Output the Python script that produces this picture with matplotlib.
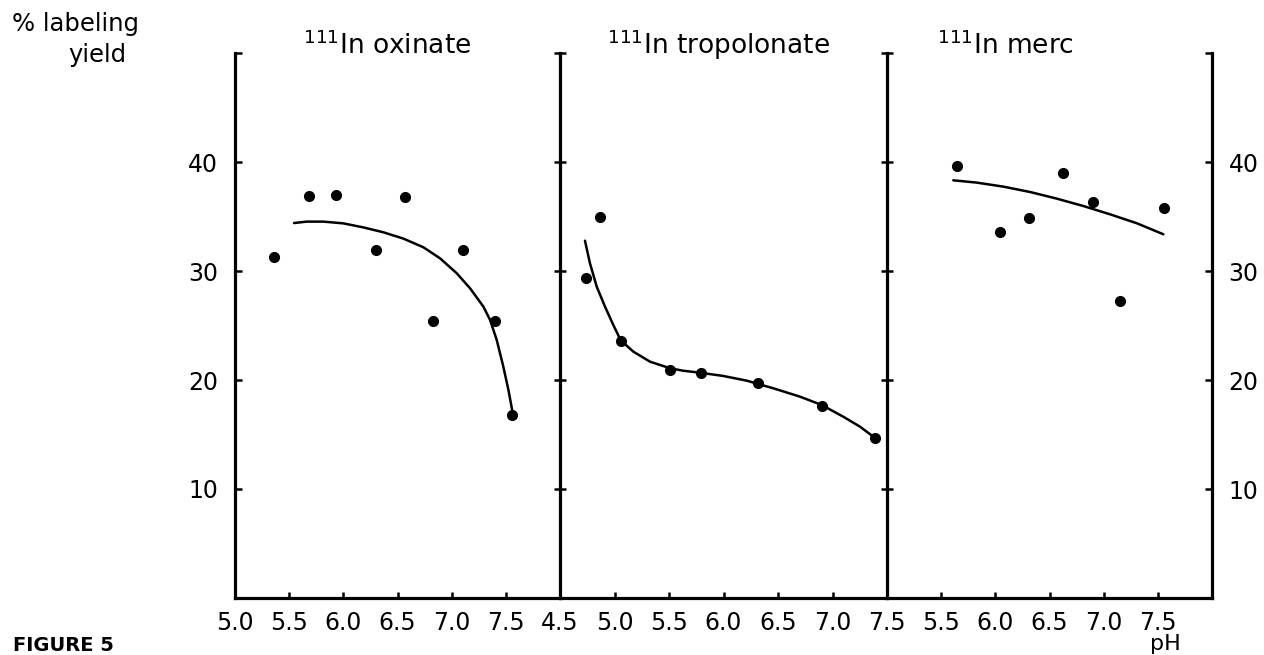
import matplotlib
matplotlib.use("Agg")
import matplotlib.pyplot as plt

W, H = 1264, 655

# 111In oxinate: measured points and the hand-drawn curve
ox_ph = [5.36, 5.68, 5.93, 6.30, 6.57, 6.83, 7.10, 7.40, 7.56]
ox_yield = [31.3, 36.85, 37.0, 31.9, 36.8, 25.4, 31.95, 25.4, 16.8]
ox_fit_ph = [5.545, 5.662, 5.815, 6.000, 6.185, 6.370, 6.555, 6.740, 6.893,
             7.047, 7.170, 7.293, 7.355, 7.416, 7.477, 7.524, 7.564]
ox_fit_yield = [34.40, 34.53, 34.53, 34.37, 34.00, 33.55, 32.97, 32.17, 31.16,
                29.79, 28.41, 26.73, 25.50, 23.67, 21.22, 19.08, 16.94]

# 111In tropolonate
tr_ph = [4.74, 4.87, 5.06, 5.51, 5.79, 6.32, 6.90, 7.39]
tr_yield = [29.4, 35.0, 23.6, 20.9, 20.6, 19.7, 17.65, 14.7]
tr_fit_ph = [4.729, 4.775, 4.837, 4.913, 4.989, 5.057, 5.173, 5.326, 5.512,
             5.631, 5.784, 5.998, 6.213, 6.457, 6.702, 6.901, 7.099, 7.252, 7.375]
tr_fit_yield = [32.78, 30.70, 28.56, 26.73, 25.05, 23.64, 22.60, 21.68, 21.07,
                20.85, 20.67, 20.37, 19.94, 19.24, 18.47, 17.71, 16.63, 15.72, 14.80]

# 111In merc
me_ph = [5.65, 6.04, 6.31, 6.62, 6.90, 7.15, 7.56]
me_yield = [39.63, 33.61, 34.90, 39.03, 36.36, 27.28, 35.81]
me_fit_ph = [5.612, 5.828, 6.074, 6.320, 6.567, 6.813, 7.059, 7.306, 7.551]
me_fit_yield = [38.32, 38.11, 37.74, 37.25, 36.64, 35.96, 35.20, 34.38, 33.37]

yticks = [10, 20, 30, 40, 50]
ylabels = ['10', '20', '30', '40', '']

plt.rcParams['font.family'] = 'DejaVu Sans'
plt.rcParams['font.size'] = 17


def px_rect(x0, y0, x1, y1):
    return [x0 / W, 1 - y1 / H, (x1 - x0) / W, (y1 - y0) / H]


def fig_xy(x, y):
    return x / W, 1 - y / H


fig = plt.figure(figsize=(W / 100, H / 100), dpi=100)
ax1 = fig.add_axes(px_rect(235, 53, 560, 598))
ax2 = fig.add_axes(px_rect(560, 53, 887, 598))
ax3 = fig.add_axes(px_rect(887, 53, 1212, 598))

panels = [
    (ax1, ox_ph, ox_yield, ox_fit_ph, ox_fit_yield, (5.0, 8.0),
     [5.0, 5.5, 6.0, 6.5, 7.0, 7.5]),
    (ax2, tr_ph, tr_yield, tr_fit_ph, tr_fit_yield, (4.5, 7.5),
     [4.5, 5.0, 5.5, 6.0, 6.5, 7.0, 7.5]),
    (ax3, me_ph, me_yield, me_fit_ph, me_fit_yield, (5.0, 8.0),
     [5.5, 6.0, 6.5, 7.0, 7.5]),
]

for ax, x, y, fx, fy, xlim, xt in panels:
    ax.plot(fx, fy, color='black', lw=1.8, solid_capstyle='round')
    ax.plot(x, y, 'o', color='black', ms=7)
    ax.set_xlim(*xlim)
    ax.set_ylim(0, 50)
    ax.set_xticks(xt)
    ax.set_xticklabels(['%.1f' % v for v in xt])
    ax.set_yticks(yticks)
    ax.spines['top'].set_visible(False)
    ax.spines['right'].set_visible(False)
    for s in ['left', 'bottom']:
        ax.spines[s].set_linewidth(2.3)
    ax.tick_params(axis='x', direction='in', length=4, width=1.8, pad=9)
    ax.tick_params(axis='y', width=1.8)
    ax.patch.set_visible(False)

ax1.set_yticklabels(ylabels)
ax1.tick_params(axis='y', direction='in', length=5, pad=12)

# the panel dividers carry ticks on both sides
for ax in (ax2, ax3):
    ax.tick_params(axis='y', direction='inout', length=9, labelleft=False)

# right-hand scale of the last panel
ax3r = ax3.twinx()
ax3r.set_ylim(0, 50)
ax3r.set_yticks(yticks)
ax3r.set_yticklabels(ylabels)
ax3r.tick_params(axis='y', direction='in', length=5, width=1.8, pad=12)
for s in ['top', 'left', 'bottom']:
    ax3r.spines[s].set_visible(False)
ax3r.spines['right'].set_linewidth(2.3)

# titles and axis captions
titles = [(303, r'$^{111}$In oxinate'), (607, r'$^{111}$In tropolonate'),
          (937, r'$^{111}$In merc')]
for xpx, txt in titles:
    fig.text(*fig_xy(xpx, 54), txt, fontsize=19, va='baseline', ha='left')

fig.text(*fig_xy(12, 31), '% labeling', fontsize=17.5, va='baseline', ha='left')
fig.text(*fig_xy(68, 62), 'yield', fontsize=17.5, va='baseline', ha='left')
fig.text(*fig_xy(1165, 654), 'pH', fontsize=16, va='bottom', ha='center')
fig.text(*fig_xy(13, 655), 'FIGURE 5', fontsize=14, fontweight='bold',
         va='bottom', ha='left')

fig.savefig('out.png', dpi=100)
